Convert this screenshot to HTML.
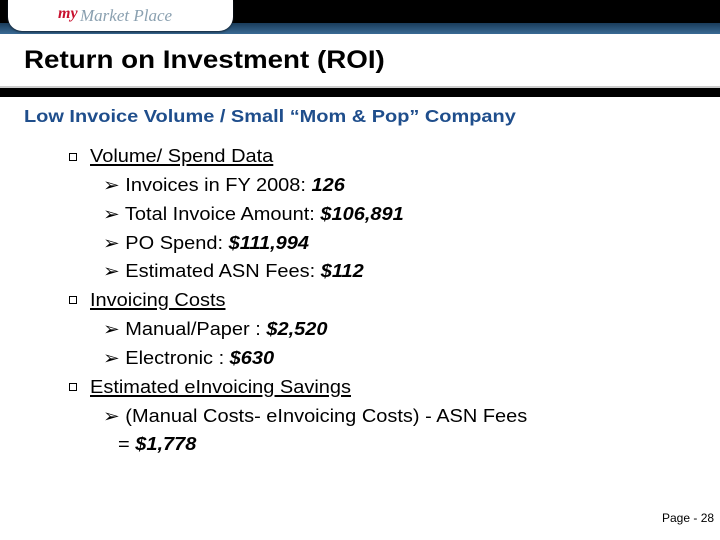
<!DOCTYPE html>
<html><head><meta charset="utf-8"><style>
html,body{margin:0;padding:0}
body{width:720px;height:540px;position:relative;background:#fff;font-family:"Liberation Sans",Arial,sans-serif;overflow:hidden}
.abs{position:absolute;white-space:nowrap}
.l{position:absolute;white-space:nowrap;font-size:18px;color:#000;line-height:22px;transform:scaleX(1.11);transform-origin:0 0}
.l b{font-style:italic}
.sq{position:absolute;width:8px;height:8px;border:1.3px solid #000;box-sizing:border-box}
u{text-decoration-thickness:1.5px;text-underline-offset:2px}
</style></head><body>
<div class="abs" style="left:0;top:0;width:720px;height:23px;background:#000"></div>
<div class="abs" style="left:0;top:23px;width:720px;height:11px;background:linear-gradient(#1a3c5a,#3a6a94)"></div>
<div class="abs" style="left:8px;top:0;width:225px;height:31px;background:#fff;border-radius:0 0 14px 14px;box-shadow:0 1px 2px #123">
  <span style="position:absolute;left:50px;top:5px;font-family:'Liberation Serif',serif;font-style:italic;font-weight:bold;color:#c8102e;font-size:16px">my</span>
  <span style="position:absolute;left:72px;top:6px;font-family:'Liberation Serif',serif;font-style:italic;color:#8aa0b0;font-size:17px">Market Place</span>
</div>
<div class="abs" style="left:24px;top:46px;font-size:25px;font-weight:bold;color:#000;transform:scaleX(1.11);transform-origin:0 0">Return on Investment (ROI)</div>
<div class="abs" style="left:0;top:86px;width:720px;height:2px;background:#ccc"></div>
<div class="abs" style="left:0;top:88px;width:720px;height:9px;background:#000"></div>
<div class="abs" style="left:24px;top:106px;font-size:17.5px;font-weight:bold;color:#1f4e8c;transform:scaleX(1.14);transform-origin:0 0">Low Invoice Volume / Small “Mom &amp; Pop” Company</div>

<div class="sq" style="left:69px;top:153px"></div>
<div class="l" style="left:90px;top:145px"><u>Volume/ Spend Data</u></div>
<div class="l" style="left:103px;top:174px">➢ Invoices in FY 2008: <b>126</b></div>
<div class="l" style="left:103px;top:203px">➢ Total Invoice Amount: <b>$106,891</b></div>
<div class="l" style="left:103px;top:232px">➢ PO Spend: <b>$111,994</b></div>
<div class="l" style="left:103px;top:260px">➢ Estimated ASN Fees: <b>$112</b></div>
<div class="sq" style="left:69px;top:296px"></div>
<div class="l" style="left:90px;top:289px"><u>Invoicing Costs</u></div>
<div class="l" style="left:103px;top:318px">➢ Manual/Paper : <b>$2,520</b></div>
<div class="l" style="left:103px;top:347px">➢ Electronic : <b>$630</b></div>
<div class="sq" style="left:69px;top:383px"></div>
<div class="l" style="left:90px;top:376px"><u>Estimated eInvoicing Savings</u></div>
<div class="l" style="left:103px;top:405px">➢ (Manual Costs- eInvoicing Costs) - ASN Fees</div>
<div class="l" style="left:118px;top:433px">= <b>$1,778</b></div>

<div class="abs" style="left:662px;top:511px;font-size:12px;color:#000">Page - 28</div>
</body></html>
